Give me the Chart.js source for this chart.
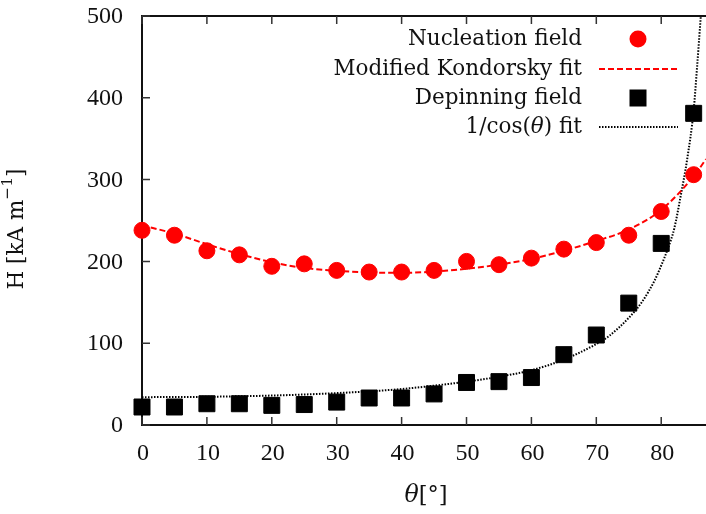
<!DOCTYPE html>
<html>
<head>
<meta charset="utf-8">
<script src="https://cdn.jsdelivr.net/npm/chart.js@4"></script>
<style>
  html, body { margin: 0; padding: 0; background: #fff; overflow: hidden; }
  #wrap { width: 706px; height: 514px; }
</style>
</head>
<body>
<div id="wrap"><canvas id="chart"></canvas></div>
<script>
// measured points (angle in degrees, field in kA/m)
const angles = [0, 5, 10, 15, 20, 25, 30, 35, 40, 45, 50, 55, 60, 65, 70, 75, 80, 85];
const nucleationField = [238, 232, 213, 208, 194, 197, 189, 187, 187, 189, 200, 196, 204, 215, 223, 232, 261, 306];
const depinningField = [22, 22, 26, 26, 24, 25, 28, 33, 33, 38, 52, 53, 58, 86, 110, 149, 222, 381];

// fit curves
const kondorskyX = [0, 5, 10, 15, 20, 25, 30, 35, 40, 45, 50, 55, 60, 65, 70, 75, 80, 85, 86.9];
const kondorskyY = [244, 234, 221, 209, 199, 192, 188.5, 186.5, 186, 187.5, 191, 196, 203, 213, 225, 239, 263, 304, 325];
const cosFitX = [0, 10, 20, 30, 40, 50, 55, 60, 65, 70, 72, 75, 77, 79, 80, 81, 82, 83, 84, 85, 85.5, 86.1];
const cosFitY = [34, 34.5, 36, 39, 44, 53, 59, 67, 80, 99, 109, 131, 150, 177, 195, 215, 240, 280, 325, 385, 435, 500];

const xTicks = [0, 10, 20, 30, 40, 50, 60, 70, 80];
const yTicks = [0, 100, 200, 300, 400, 500];

const TEXT_FONT = '"DejaVu Serif", serif';
const NUM_FONT = '"Liberation Serif", serif';
const FS = 21.5;

const pts = (xs, ys) => xs.map((x, i) => ({ x, y: ys[i] }));

// parts: [text, italic, scale, raise]
function richText(ctx, parts, x, y, align, family) {
  const fam = family || TEXT_FONT;
  const fontOf = p => (p[1] ? 'italic ' : '') + (FS * (p[2] || 1)) + 'px ' + fam;
  let total = 0;
  parts.forEach(p => { ctx.font = fontOf(p); total += ctx.measureText(p[0]).width; });
  let cx = align === 'right' ? x - total : align === 'center' ? x - total / 2 : x;
  ctx.textAlign = 'left';
  ctx.textBaseline = 'middle';
  parts.forEach(p => {
    ctx.font = fontOf(p);
    ctx.fillText(p[0], cx, y - (p[3] || 0));
    cx += ctx.measureText(p[0]).width;
  });
}

// gnuplot-like frame with inward ticks, labels and legend
const framePlugin = {
  id: 'frame',
  beforeDatasetsDraw(chart) {
    const { ctx, chartArea: a, scales } = chart;
    ctx.save();
    ctx.strokeStyle = '#111';
    ctx.lineWidth = 2;
    ctx.beginPath();
    ctx.moveTo(a.right + 4, a.top);
    ctx.lineTo(a.left, a.top);
    ctx.lineTo(a.left, a.bottom);
    ctx.lineTo(a.right + 4, a.bottom);
    ctx.stroke();
    ctx.lineWidth = 1.5;
    ctx.strokeStyle = '#333';
    ctx.beginPath();
    xTicks.forEach(v => {
      const px = scales.x.getPixelForValue(v);
      ctx.moveTo(px, a.bottom); ctx.lineTo(px, a.bottom - 8);
      ctx.moveTo(px, a.top); ctx.lineTo(px, a.top + 8);
    });
    yTicks.forEach(v => {
      const py = scales.y.getPixelForValue(v);
      ctx.moveTo(a.left, py); ctx.lineTo(a.left + 8, py);
    });
    ctx.stroke();

    // tick labels
    ctx.fillStyle = '#111';
    ctx.font = '24px ' + NUM_FONT;
    ctx.textBaseline = 'middle';
    ctx.textAlign = 'center';
    xTicks.forEach(v => ctx.fillText(String(v), scales.x.getPixelForValue(v) + 1, a.bottom + 29));
    ctx.textAlign = 'right';
    yTicks.forEach(v => ctx.fillText(String(v), a.left - 19, scales.y.getPixelForValue(v) + 1));
    ctx.restore();
  },
  afterDraw(chart) {
    const { ctx, chartArea: a } = chart;
    ctx.save();
    ctx.fillStyle = '#111';
    // axis titles
    richText(ctx, [['θ', true, 1.1], ['[°]', false, 1.05]], (a.left + a.right) / 2 + 2, 496, 'center');
    ctx.translate(17, 229);
    ctx.rotate(-Math.PI / 2);
    richText(ctx, [['H [kA m', false], ['−1', false, 0.72, 9], [']', false]], 0, 0, 'center');
    ctx.restore();

    // legend, text on the left, sample on the right
    const rows = [
      { text: [['Nucleation field', false]], kind: 'circle', y: 39 },
      { text: [['Modified Kondorsky fit', false]], kind: 'dash', y: 69 },
      { text: [['Depinning field', false]], kind: 'square', y: 98 },
      { text: [['1/cos(', false], ['θ', true], [') fit', false]], kind: 'dot', y: 127 }
    ];
    ctx.save();
    rows.forEach(r => {
      ctx.fillStyle = '#111';
      richText(ctx, r.text, 582, r.y, 'right');
      if (r.kind === 'circle') {
        ctx.fillStyle = '#ff0000';
        ctx.beginPath(); ctx.arc(638, r.y, 8.5, 0, Math.PI * 2); ctx.fill();
      } else if (r.kind === 'square') {
        ctx.fillStyle = '#000';
        ctx.fillRect(638 - 8.5, r.y - 8.5, 17, 17);
      } else {
        ctx.beginPath();
        ctx.moveTo(599, r.y); ctx.lineTo(678, r.y);
        ctx.lineWidth = 2;
        ctx.strokeStyle = r.kind === 'dash' ? '#ff0000' : '#000';
        ctx.setLineDash(r.kind === 'dash' ? [6, 3] : [1.5, 1.5]);
        ctx.stroke();
      }
    });
    ctx.restore();
  }
};

const noPad = s => { s.paddingTop = 0; s.paddingBottom = 0; s.paddingLeft = 0; s.paddingRight = 0; };

new Chart(document.getElementById('chart'), {
  type: 'scatter',
  data: {
    datasets: [
      {
        label: 'Nucleation field',
        data: pts(angles, nucleationField),
        backgroundColor: '#ff0000',
        borderColor: '#ff0000',
        borderWidth: 1,
        pointRadius: 8,
        pointStyle: 'circle',
        clip: false
      },
      {
        label: 'Depinning field',
        data: pts(angles, depinningField),
        backgroundColor: '#000',
        borderColor: '#000',
        borderWidth: 1,
        pointRadius: 11.3,
        pointStyle: 'rect',
        clip: false
      },
      {
        label: 'Modified Kondorsky fit',
        data: pts(kondorskyX, kondorskyY),
        showLine: true,
        borderColor: '#ff0000',
        borderWidth: 2,
        borderDash: [6, 3],
        pointRadius: 0,
        cubicInterpolationMode: 'monotone'
      },
      {
        label: '1/cos(θ) fit',
        data: pts(cosFitX, cosFitY),
        showLine: true,
        borderColor: '#000',
        borderWidth: 2,
        borderDash: [1.5, 1.5],
        pointRadius: 0,
        cubicInterpolationMode: 'monotone'
      }
    ]
  },
  options: {
    responsive: true,
    maintainAspectRatio: false,
    animation: false,
    layout: { autoPadding: false, padding: { top: 16, right: 0, left: 0, bottom: 0 } },
    plugins: { legend: { display: false }, tooltip: { enabled: false } },
    scales: {
      x: {
        type: 'linear',
        min: 0,
        max: 86.9,
        afterFit: s => { s.height = 89; noPad(s); },
        afterBuildTicks: s => { s.ticks = xTicks.map(v => ({ value: v })); },
        grid: { display: false },
        border: { display: false },
        ticks: { display: false }
      },
      y: {
        type: 'linear',
        min: 0,
        max: 500,
        afterFit: s => { s.width = 142; noPad(s); },
        afterBuildTicks: s => { s.ticks = yTicks.map(v => ({ value: v })); },
        grid: { display: false },
        border: { display: false },
        ticks: { display: false }
      }
    }
  },
  plugins: [framePlugin]
});
</script>
</body>
</html>
